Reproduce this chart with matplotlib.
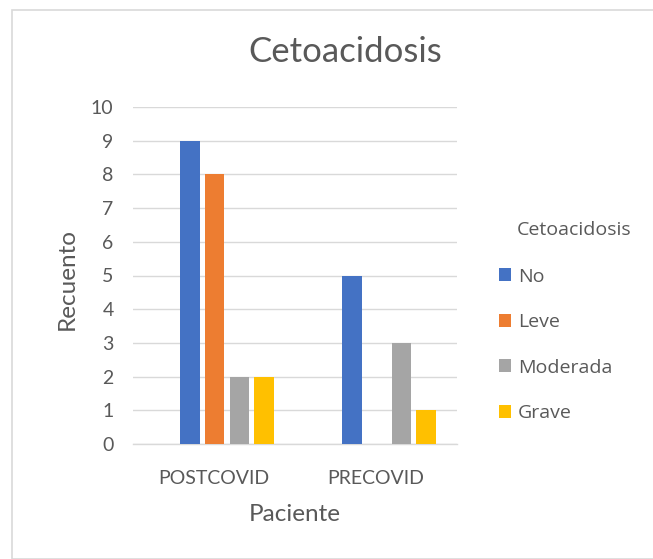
import matplotlib
matplotlib.use("Agg")
import matplotlib.pyplot as plt
from matplotlib.patches import Rectangle, Patch
import numpy as np

plt.rcParams['font.family'] = ['Lato', 'DejaVu Sans']

categories = ["POSTCOVID", "PRECOVID"]
series_names = ["No", "Leve", "Moderada", "Grave"]
no_vals = [9, 5]
leve_vals = [8, 0]
moderada_vals = [2, 3]
grave_vals = [2, 1]
colors = ["#4472C4", "#ED7D31", "#A5A5A5", "#FFC000"]
yticks = [0, 1, 2, 3, 4, 5, 6, 7, 8, 9, 10]

W, H = 653, 559
fig = plt.figure(figsize=(W / 100, H / 100), dpi=100)

# outer chart border
fig.patches.append(Rectangle((12 / W, 0), 1, 1 - 10 / H, transform=fig.transFigure,
                             fill=False, edgecolor="#D9D9D9", linewidth=1.2))

ax = fig.add_axes([133 / W, (H - 444) / H, 324 / W, 337 / H])
txt = "#595959"

x = np.arange(len(categories))
step = 0.153
width = 0.12
shift = 0.08
all_vals = [no_vals, leve_vals, moderada_vals, grave_vals]
for i, (vals, c, name) in enumerate(zip(all_vals, colors, series_names)):
    ax.bar(x + shift + (i - 1.5) * step, vals, width, color=c, label=name, zorder=3)

ax.set_xlim(-0.5, 1.5)
ax.set_ylim(0, 10)
ax.set_yticks(yticks)
ax.set_xticks(x)
ax.set_xticklabels(categories)
ax.grid(axis="y", color="#D9D9D9", linewidth=1.0, zorder=0)
for s in ["top", "right", "left"]:
    ax.spines[s].set_visible(False)
ax.spines["bottom"].set_color("#D9D9D9")
ax.spines["bottom"].set_linewidth(1.0)
ax.tick_params(axis="both", length=0, colors=txt, labelsize=14)
ax.tick_params(axis="y", pad=14)
ax.tick_params(axis="x", pad=19)

ax.set_ylabel("Recuento", fontsize=17.5, color=txt)
ax.yaxis.set_label_coords(-0.17, 0.49)
ax.set_xlabel("Paciente", fontsize=17.5, color=txt, labelpad=12)
fig.text(345 / W, 1 - 52 / H, "Cetoacidosis", fontsize=25, color=txt,
         ha="center", va="center")

leg_font = ['Open Sans', 'DejaVu Sans']
handles = [Patch(facecolor=c, edgecolor="none") for c in colors]
fig.text(517 / W, 1 - 230 / H, "Cetoacidosis", fontsize=14, color=txt,
         ha="left", va="center", family=leg_font)
leg = fig.legend(handles, series_names, loc="upper left",
                 bbox_to_anchor=(491 / W, 1 - 260 / H), frameon=False,
                 prop={'family': leg_font, 'size': 14}, labelcolor=txt,
                 handlelength=0.65, handleheight=0.65,
                 handletextpad=0.35, labelspacing=1.41, borderaxespad=0)

fig.savefig("out.png", dpi=100)
